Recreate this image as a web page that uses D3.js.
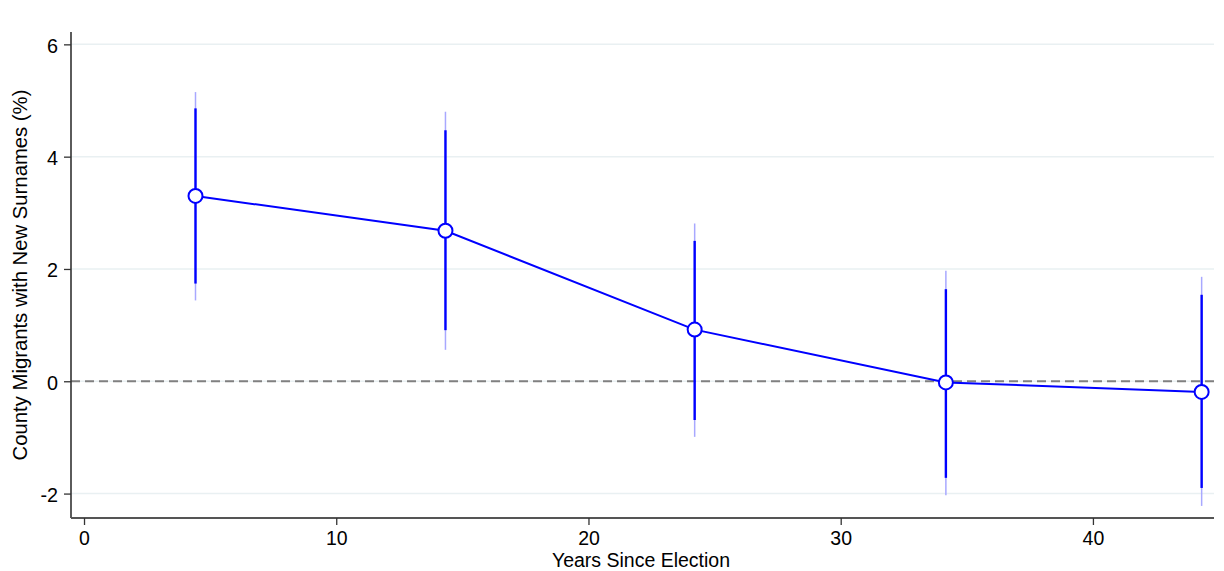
<!DOCTYPE html>
<html>
<head>
<meta charset="utf-8">
<script src="https://cdn.jsdelivr.net/npm/d3@7"></script>
<style>
  html, body { margin: 0; padding: 0; background: #fff; }
  svg { display: block; font-family: "Liberation Sans", Arial, sans-serif; }
</style>
</head>
<body>
<svg id="chart" width="1224" height="571"></svg>
<script>
// Years since election for each estimate
const years = [4.42, 14.33, 24.21, 34.17, 44.31];
// Point estimates (%)
const estimates = [3.30, 2.68, 0.92, -0.02, -0.19];
// Inner (thick) confidence interval bounds
const innerLow  = [1.74, 0.91, -0.69, -1.72, -1.90];
const innerHigh = [4.86, 4.47, 2.50, 1.64, 1.54];
// Outer (thin) confidence interval bounds
const outerLow  = [1.44, 0.56, -0.99, -2.03, -2.22];
const outerHigh = [5.15, 4.80, 2.81, 1.97, 1.86];
// Axis ticks
const xTicks = [0, 10, 20, 30, 40];
const yTicks = [-2, 0, 2, 4, 6];

const data = years.map((yr, i) => ({
  x: yr, y: estimates[i],
  lo: innerLow[i], hi: innerHigh[i],
  lo2: outerLow[i], hi2: outerHigh[i]
}));

const svg = d3.select("#chart");
const plotLeft = 71, plotRight = 1214, plotTop = 32, plotBottom = 518;
const fontFamily = "'Liberation Sans', Arial, sans-serif";

const x = d3.scaleLinear().domain([-0.516, 44.8]).range([plotLeft, plotRight]);
const y = d3.scaleLinear().domain([-2.435, 6.22]).range([plotBottom, plotTop]);

// Horizontal grid lines
svg.append("g").selectAll("line").data(yTicks).join("line")
  .attr("x1", plotLeft).attr("x2", plotRight)
  .attr("y1", d => y(d)).attr("y2", d => y(d))
  .attr("stroke", "#e9f0f2").attr("stroke-width", 1.5);

// Reference line at zero
svg.append("line")
  .attr("x1", plotLeft).attr("x2", plotRight)
  .attr("y1", y(0)).attr("y2", y(0))
  .attr("stroke", "#808080").attr("stroke-width", 1.8)
  .attr("stroke-dasharray", "9,5");

// Axes (plain hyphen for negative labels)
const fmt = d => String(d);
const yAxis = d3.axisLeft(y).tickValues(yTicks).tickFormat(fmt).tickSize(7).tickPadding(6).tickSizeOuter(0);
const xAxis = d3.axisBottom(x).tickValues(xTicks).tickFormat(fmt).tickSize(7).tickPadding(6.5).tickSizeOuter(0);

const gy = svg.append("g").attr("transform", `translate(${plotLeft},0)`).call(yAxis);
gy.select(".domain").attr("d", `M0,${plotTop}V${plotBottom}`).attr("stroke", "#333").attr("stroke-width", 1.6);
gy.selectAll(".tick line").attr("stroke", "#333").attr("stroke-width", 1.3);
gy.selectAll(".tick text").attr("font-size", 19.8).attr("fill", "#000")
  .attr("dy", "0.4em").attr("font-family", fontFamily);

const gx = svg.append("g").attr("transform", `translate(0,${plotBottom})`).call(xAxis);
gx.select(".domain").attr("d", `M${plotLeft},0H${plotRight}`).attr("stroke", "#555").attr("stroke-width", 2.2);
gx.selectAll(".tick line").attr("stroke", "#333").attr("stroke-width", 1.3);
gx.selectAll(".tick text").attr("font-size", 19.5).attr("fill", "#000")
  .attr("font-family", fontFamily);

// Axis titles
svg.append("text")
  .attr("x", 641).attr("y", 567)
  .attr("text-anchor", "middle").attr("font-size", 19.5).attr("fill", "#000")
  .text("Years Since Election");

svg.append("text")
  .attr("transform", `translate(27,${(plotTop + plotBottom) / 2}) rotate(-90)`)
  .attr("text-anchor", "middle").attr("font-size", 20.3).attr("fill", "#000")
  .text("County Migrants with New Surnames (%)");

// Outer confidence intervals (thin, light)
svg.append("g").selectAll("line").data(data).join("line")
  .attr("x1", d => x(d.x)).attr("x2", d => x(d.x))
  .attr("y1", d => y(d.lo2)).attr("y2", d => y(d.hi2))
  .attr("stroke", "#a8a8ff").attr("stroke-width", 1.5);

// Inner confidence intervals (thick)
svg.append("g").selectAll("line").data(data).join("line")
  .attr("x1", d => x(d.x)).attr("x2", d => x(d.x))
  .attr("y1", d => y(d.lo)).attr("y2", d => y(d.hi))
  .attr("stroke", "#0000ff").attr("stroke-width", 2.4);

// Connecting line
svg.append("path").datum(data)
  .attr("fill", "none").attr("stroke", "#0000ff").attr("stroke-width", 2)
  .attr("d", d3.line().x(d => x(d.x)).y(d => y(d.y)));

// Point markers
svg.append("g").selectAll("circle").data(data).join("circle")
  .attr("cx", d => x(d.x)).attr("cy", d => y(d.y)).attr("r", 7)
  .attr("fill", "#fff").attr("stroke", "#0000ff").attr("stroke-width", 2);
</script>
</body>
</html>
